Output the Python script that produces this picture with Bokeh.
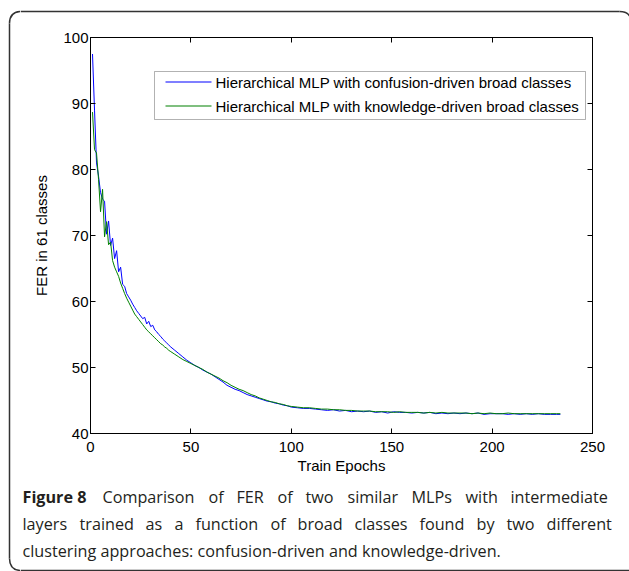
from bokeh.plotting import figure
from bokeh.layouts import column, row
from bokeh.models import (LinearAxis, Label, BoxAnnotation, FixedTicker, Range1d)
from bokeh.core.properties import value
from bokeh.embed import file_html
from bokeh.resources import INLINE

# ---------------- data ----------------
x_ticks = [0, 50, 100, 150, 200, 250]
y_ticks = [40, 50, 60, 70, 80, 90, 100]

epochs_early = list(range(1, 41))
epochs_mid = list(range(42, 101, 2))
epochs_late = list(range(103, 233, 3)) + [234]

confusion_early = [97.5, 89.0, 81.0, 79.0, 76.5, 75.5, 75.2, 70.2, 72.2, 68.5,
                   69.6, 66.5, 67.7, 64.5, 65.2, 62.6, 62.3, 61.2, 60.7, 60.2,
                   59.6, 59.1, 58.6, 58.2, 57.8, 57.4, 57.6, 56.6, 57.0, 56.2,
                   56.4, 55.7, 55.4, 55.0, 54.7, 54.3, 54.0, 53.7, 53.4, 53.1]
confusion_mid = [52.6, 52.1, 51.6, 51.1, 50.7, 50.3, 50.0, 49.6, 49.3, 49.0,
                 48.6, 48.2, 47.8, 47.3, 47.0, 46.7, 46.5, 46.2, 45.9, 45.7,
                 45.5, 45.3, 45.1, 44.9, 44.8, 44.6, 44.5, 44.3, 44.2, 44.0]
confusion_late = [43.9, 43.8, 43.8, 43.7, 43.6, 43.5, 43.6, 43.4, 43.5, 43.3,
                  43.4, 43.3, 43.4, 43.2, 43.3, 43.1, 43.3, 43.2, 43.2, 43.1,
                  43.2, 43.1, 43.2, 43.0, 43.1, 43.0, 43.1, 43.0, 43.1, 43.0,
                  43.1, 42.9, 43.0, 43.0, 43.0, 42.9, 43.0, 42.9, 43.0, 42.9,
                  43.0, 42.9, 42.9, 42.9, 42.9]

knowledge_early = [88.7, 83.0, 82.5, 78.5, 73.6, 77.0, 69.8, 72.1, 68.6, 69.0,
                   66.2, 65.2, 64.5, 63.8, 62.8, 62.0, 61.2, 60.5, 59.9, 59.3,
                   58.7, 58.1, 57.7, 57.3, 56.9, 56.5, 56.1, 55.7, 55.4, 55.1,
                   54.8, 54.5, 54.2, 53.9, 53.6, 53.4, 53.1, 52.9, 52.6, 52.4]
knowledge_mid = [52.0, 51.6, 51.2, 50.9, 50.6, 50.3, 50.0, 49.7, 49.3, 49.0,
                 48.7, 48.4, 48.0, 47.7, 47.3, 47.0, 46.7, 46.5, 46.2, 45.9,
                 45.7, 45.4, 45.2, 45.0, 44.8, 44.7, 44.5, 44.4, 44.2, 44.1]
knowledge_late = [44.0, 43.9, 43.9, 43.8, 43.7, 43.7, 43.6, 43.6, 43.5, 43.5,
                  43.4, 43.4, 43.4, 43.3, 43.3, 43.3, 43.2, 43.3, 43.2, 43.2,
                  43.2, 43.1, 43.2, 43.1, 43.2, 43.1, 43.1, 43.1, 43.1, 43.0,
                  43.1, 43.0, 43.1, 43.0, 43.0, 43.1, 43.0, 43.0, 43.0, 43.0,
                  43.0, 43.0, 43.0, 43.0, 43.0]

series_names = ["Hierarchical MLP with confusion-driven broad classes",
                "Hierarchical MLP with knowledge-driven broad classes"]
series_colors = ["#0000ff", "#008000"]

caption_bold = "Figure 8"
caption_line1 = ["Comparison", "of", "FER", "of", "two", "similar", "MLPs",
                 "with", "intermediate"]
caption_line2 = ["layers", "trained", "as", "a", "function", "of", "broad",
                 "classes", "found", "by", "two", "different"]
caption_line3 = "clustering approaches: confusion-driven and knowledge-driven."

# word start positions (page pixels) of the justified caption lines
line1_x = [102, 208, 236, 277, 305, 347, 411, 465, 510]
line2_x = [22, 79, 145, 174, 195, 270, 297, 354, 419, 476, 506, 546]

FONT = "Liberation Sans"
CAP_FONT = "Open Sans"
CAP_SIZE = "16.2px"
BOX_COLOR = "#333333"
BOX_W = 1.5

# ---------------- layout sizes (pixels) ----------------
W = 629
H = 571
LEFT_W = 20
TOP_H = 20
MID_H = 458
CAP_H = H - TOP_H - MID_H
INNER_W = W - LEFT_W


def blank(width, height):
    f = figure(width=width, height=height, output_backend="svg",
               toolbar_location=None, x_range=Range1d(0, width),
               y_range=Range1d(height, 0), x_axis_location=None,
               y_axis_location=None, min_border=0, min_border_left=0,
               min_border_right=0, min_border_top=0, min_border_bottom=0)
    f.outline_line_color = None
    f.xgrid.visible = False
    f.ygrid.visible = False
    f.background_fill_color = "white"
    f.border_fill_color = "white"
    return f


# ---------------- left strip: left edge and left corners ----------------
left = blank(LEFT_W, H)
left.line([9, 9], [23, H - 13], line_color=BOX_COLOR, line_width=BOX_W)
left.quadratic(x0=[9, 9], y0=[23, H - 13], x1=[21, 21], y1=[11, H - 1],
               cx=[9, 9], cy=[11, H - 1], line_color=BOX_COLOR, line_width=BOX_W)

# ---------------- top strip: top edge ----------------
top = blank(INNER_W, TOP_H)
top.line([0, 599], [11, 11], line_color=BOX_COLOR, line_width=BOX_W)
top.quadratic(x0=[599], y0=[11], x1=[611], y1=[23], cx=[611], cy=[11],
              line_color=BOX_COLOR, line_width=BOX_W)

# ---------------- main chart ----------------
p = figure(width=INNER_W, height=MID_H, output_backend="svg",
           toolbar_location=None,
           x_range=Range1d(0, 250), y_range=Range1d(40, 100),
           min_border_left=70, min_border_right=37, min_border_top=17,
           min_border_bottom=45)
p.background_fill_color = "white"
p.border_fill_color = "white"
p.outline_line_color = "black"
p.outline_line_width = 1
p.xgrid.visible = False
p.ygrid.visible = False


def style_axis(ax, ticks, show_labels):
    ax.ticker = FixedTicker(ticks=ticks)
    ax.major_tick_in = 5
    ax.major_tick_out = 0
    ax.minor_tick_line_color = None
    ax.axis_line_color = "black"
    ax.major_tick_line_color = "black"
    ax.major_label_text_font = FONT
    ax.major_label_text_font_size = "15px"
    ax.major_label_text_color = "black"
    ax.axis_label_text_font = FONT
    ax.axis_label_text_font_size = "15px"
    ax.axis_label_text_font_style = "normal"
    ax.axis_label_text_color = "black"
    if not show_labels:
        ax.major_label_overrides = {t: "" for t in ticks}


style_axis(p.xaxis[0], x_ticks, True)
style_axis(p.yaxis[0], y_ticks, True)
p.xaxis[0].axis_label = "Train Epochs"
p.yaxis[0].axis_label = "FER in 61 classes"
p.xaxis[0].major_label_standoff = 8
p.xaxis[0].axis_label_standoff = 2
p.yaxis[0].major_label_standoff = 2
p.yaxis[0].axis_label_standoff = 10

top_ax = LinearAxis()
style_axis(top_ax, x_ticks, False)
p.add_layout(top_ax, "above")
right_ax = LinearAxis()
style_axis(right_ax, y_ticks, False)
p.add_layout(right_ax, "right")

epochs = epochs_early + epochs_mid + epochs_late
confusion = confusion_early + confusion_mid + confusion_late
knowledge = knowledge_early + knowledge_mid + knowledge_late

r1 = p.line(epochs, confusion, line_color=series_colors[0], line_width=1)
r2 = p.line(epochs, knowledge, line_color=series_colors[1], line_width=1)

# ---------------- legend (box, sample strokes, labels; frame pixels) ----------------
LEG_LEFT, LEG_RIGHT, LEG_BOTTOM, LEG_TOP = 64, 495, 314, 362
ROW_Y = [351, 327]
SAMPLE_X0, SAMPLE_X1, TEXT_X = 75, 121, 125

p.add_layout(BoxAnnotation(left=LEG_LEFT, right=LEG_RIGHT, bottom=LEG_BOTTOM,
                           top=LEG_TOP, left_units="screen", right_units="screen",
                           top_units="screen", bottom_units="screen",
                           fill_color="white", fill_alpha=1,
                           line_color="black", line_width=1))
for name, color, ry in zip(series_names, series_colors, ROW_Y):
    p.add_layout(BoxAnnotation(left=SAMPLE_X0, right=SAMPLE_X1, bottom=ry,
                               top=ry + 1, left_units="screen",
                               right_units="screen", top_units="screen",
                               bottom_units="screen", fill_color=color,
                               fill_alpha=1, line_color=None))
    p.add_layout(Label(x=TEXT_X, y=ry + 0.5, x_units="screen", y_units="screen",
                       text=name, text_font=FONT, text_font_size="15px",
                       text_baseline="middle", text_color="black"))

# ---------------- caption strip ----------------
cap = blank(INNER_W, CAP_H)
cap.line([0, INNER_W], [CAP_H - 1, CAP_H - 1], line_color=BOX_COLOR,
         line_width=BOX_W)

cap.text(x=[22 - LEFT_W], y=[18], text=[caption_bold], text_font=value(CAP_FONT),
         text_font_style="bold", text_font_size=CAP_SIZE,
         text_baseline="middle", text_color="#231f20")
cap.text(x=[v - LEFT_W for v in line1_x], y=[18] * len(line1_x),
         text=caption_line1, text_font=value(CAP_FONT), text_font_size=CAP_SIZE,
         text_baseline="middle", text_color="#231f20")
cap.text(x=[v - LEFT_W for v in line2_x], y=[45] * len(line2_x),
         text=caption_line2, text_font=value(CAP_FONT), text_font_size=CAP_SIZE,
         text_baseline="middle", text_color="#231f20")
cap.text(x=[22 - LEFT_W], y=[72], text=[caption_line3], text_font=value(CAP_FONT),
         text_font_size=CAP_SIZE, text_baseline="middle", text_color="#231f20")

layout = row(left, column(top, row(p), cap))

open("out.html", "w").write(file_html(layout, INLINE))
